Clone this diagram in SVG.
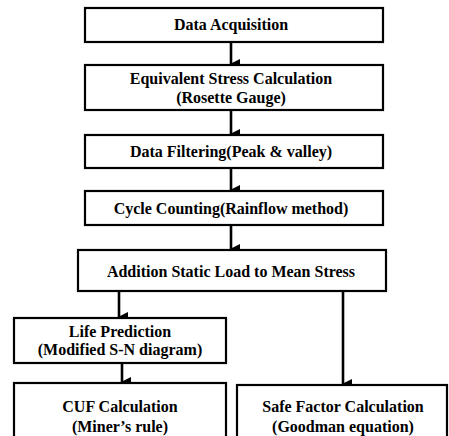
<svg xmlns="http://www.w3.org/2000/svg" width="449" height="436" viewBox="0 0 449 436">
<defs>
<style>
.box{fill:#fff;stroke:#000;stroke-width:2.2}
.t{font-family:"Liberation Serif","Times New Roman",serif;font-weight:bold;font-size:16px;fill:#000;text-anchor:middle}
.c{stroke:#000;stroke-width:2.6;fill:none}
</style>
<marker id="ah" markerWidth="10" markerHeight="10" refX="5" refY="9" orient="auto" markerUnits="userSpaceOnUse" viewBox="0 0 10 10">
<path d="M0,0 L10,0 L5,10 Z" fill="#000"/>
</marker>
</defs>
<rect width="449" height="436" fill="#fff"/>
<g id="connectors">
<path class="c" d="M231,42 V64" marker-end="url(#ah)"/>
<path class="c" d="M231,110 V134" marker-end="url(#ah)"/>
<path class="c" d="M231,168 V190" marker-end="url(#ah)"/>
<path class="c" d="M231,225 V249" marker-end="url(#ah)"/>
<path class="c" d="M119,291 V317" marker-end="url(#ah)"/>
<path class="c" d="M122,363 V382" marker-end="url(#ah)"/>
<path class="c" d="M343,291 V384" marker-end="url(#ah)"/>
</g>
<g id="n1"><rect class="box" x="85" y="8" width="298" height="34"/><text class="t" x="231" y="30">Data Acquisition</text></g>
<g id="n2"><rect class="box" x="85" y="65" width="298" height="45"/><text class="t" x="231" y="84">Equivalent Stress Calculation</text><text class="t" x="231" y="103">(Rosette Gauge)</text></g>
<g id="n3"><rect class="box" x="85" y="135" width="298" height="33"/><text class="t" x="231" y="157">Data Filtering(Peak &amp; valley)</text></g>
<g id="n4"><rect class="box" x="85" y="191" width="298" height="34"/><text class="t" x="231" y="214">Cycle Counting(Rainflow method)</text></g>
<g id="n5"><rect class="box" x="78" y="250" width="308" height="41"/><text class="t" x="231" y="277">Addition Static Load to Mean Stress</text></g>
<g id="n6"><rect class="box" x="14" y="318" width="212" height="45"/><text class="t" x="120" y="337">Life Prediction</text><text class="t" x="120" y="355">(Modified S-N diagram)</text></g>
<g id="n7"><rect class="box" x="14" y="383" width="212" height="60"/><text class="t" x="120" y="412">CUF Calculation</text><text class="t" x="120" y="432">(Miner’s rule)</text></g>
<g id="n8"><rect class="box" x="237" y="385" width="210" height="60"/><text class="t" x="343" y="412">Safe Factor Calculation</text><text class="t" x="343" y="432">(Goodman equation)</text></g>
</svg>
